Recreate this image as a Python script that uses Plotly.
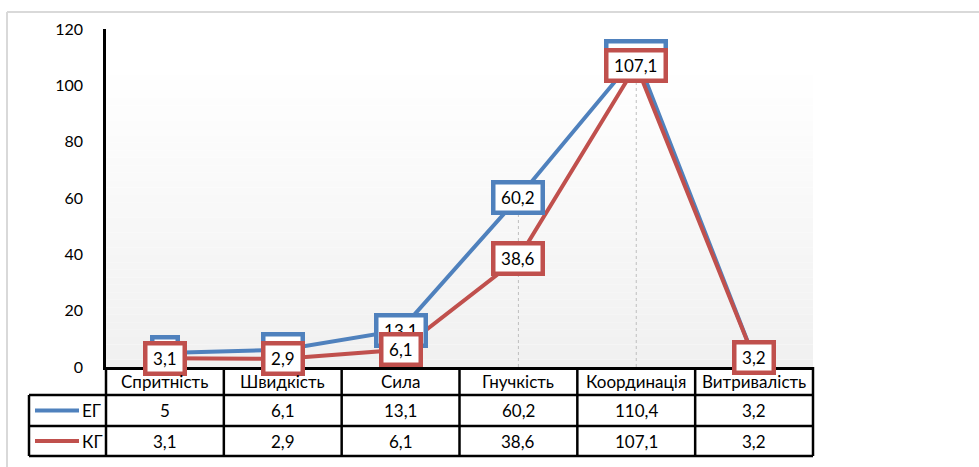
import plotly.graph_objects as go

categories = ["Спритність", "Швидкість", "Сила", "Гнучкість", "Координація", "Витривалість"]
eg_values = [5, 6.1, 13.1, 60.2, 110.4, 3.2]
kg_values = [3.1, 2.9, 6.1, 38.6, 107.1, 3.2]
series_names = ["ЕГ", "КГ"]
y_ticks = [0, 20, 40, 60, 80, 100, 120]

BLUE = "#4f81bd"
RED = "#c0504d"
FONT = "Lato, 'Open Sans', sans-serif"
LABEL_SIZE = 17
TABLE_SIZE = 17

W, H = 979, 467
ML, MR, MT, MB = 106, 166, 29, 100
PW = W - ML - MR
PH = H - MT - MB


def px(x):
    return (x - ML) / PW


def py(y):
    return (H - MB - y) / PH


def fmt(v):
    return (f"{v:g}").replace(".", ",")


def label_width(s):
    w = 0
    for ch in s:
        w += 0.24 * LABEL_SIZE if ch == "," else 0.58 * LABEL_SIZE
    return w + 7


fig = go.Figure()

# drop lines (from highest value down to the axis)
dx, dy = [], []
for c, a, b in zip(categories, eg_values, kg_values):
    dx += [c, c, None]
    dy += [0, max(a, b), None]
fig.add_trace(go.Scatter(x=dx, y=dy, mode="lines", showlegend=False, hoverinfo="skip",
                         line=dict(color="#bfbfbf", width=1, dash="dot")))

fig.add_trace(go.Scatter(x=categories, y=eg_values, mode="lines", name=series_names[0],
                         line=dict(color=BLUE, width=4), showlegend=False))
fig.add_trace(go.Scatter(x=categories, y=kg_values, mode="lines", name=series_names[1],
                         line=dict(color=RED, width=4), showlegend=False))

shapes = []
annotations = []

# gradient plot background
n_strips = 40
top_y, bot_y = 68, H - MB
for i in range(n_strips):
    y0 = top_y + (bot_y - top_y) * i / n_strips
    y1 = top_y + (bot_y - top_y) * (i + 1) / n_strips
    t = (i + 0.5) / n_strips
    g = round(255 - (255 - 240) * t)
    shapes.append(dict(type="rect", xref="paper", yref="paper", x0=0, x1=1,
                       y0=py(y1), y1=py(y0), fillcolor=f"rgb({g},{g},{g})",
                       line=dict(width=0), layer="below"))

# outer chart frame (top and left visible)
shapes.append(dict(type="line", xref="paper", yref="paper", x0=px(7), x1=px(W + 5),
                   y0=py(12), y1=py(12), line=dict(color="#d9d9d9", width=2)))
shapes.append(dict(type="line", xref="paper", yref="paper", x0=px(7), x1=px(7),
                   y0=py(12), y1=py(H + 5), line=dict(color="#d9d9d9", width=2)))

# data labels as boxes
for vals, color in [(eg_values, BLUE), (kg_values, RED)]:
    for c, v in zip(categories, vals):
        s = fmt(v)
        annotations.append(dict(x=c, y=v, xref="x", yref="y", text=s, showarrow=False,
                                font=dict(family=FONT, size=LABEL_SIZE, color="black"),
                                bgcolor="white", bordercolor=color, borderwidth=4.5,
                                borderpad=2, width=label_width(s), height=22,
                                xanchor="center", yanchor="middle"))

# data table
row_top, row1, row2, row3 = H - MB, 395, 426, 456
tab_left = 29
lw = 2.5
n = len(categories)
for k in range(n + 1):
    xk = k / n
    shapes.append(dict(type="line", xref="paper", yref="paper", x0=xk, x1=xk,
                       y0=py(row_top), y1=py(row3), line=dict(color="black", width=lw)))
shapes.append(dict(type="line", xref="paper", yref="paper", x0=px(tab_left), x1=px(tab_left),
                   y0=py(row1), y1=py(row3), line=dict(color="black", width=lw)))
for yy in (row1, row2, row3):
    shapes.append(dict(type="line", xref="paper", yref="paper", x0=px(tab_left), x1=1,
                       y0=py(yy), y1=py(yy), line=dict(color="black", width=lw)))

row_centers = [(row_top + row1) / 2, (row1 + row2) / 2, (row2 + row3) / 2]
for c in categories:
    annotations.append(dict(x=c, y=py(row_centers[0]), xref="x", yref="paper", text=c,
                            showarrow=False, font=dict(family=FONT, size=TABLE_SIZE, color="black"),
                            xanchor="center", yanchor="middle"))
for r, vals in ((1, eg_values), (2, kg_values)):
    for c, v in zip(categories, vals):
        annotations.append(dict(x=c, y=py(row_centers[r]), xref="x", yref="paper", text=fmt(v),
                                showarrow=False, font=dict(family=FONT, size=TABLE_SIZE, color="black"),
                                xanchor="center", yanchor="middle"))

# legend keys inside the table
for r, name, color in ((1, series_names[0], BLUE), (2, series_names[1], RED)):
    yc = row_centers[r]
    shapes.append(dict(type="line", xref="paper", yref="paper", x0=px(35), x1=px(79),
                       y0=py(yc), y1=py(yc), line=dict(color=color, width=4)))
    annotations.append(dict(x=px(80), y=py(yc), xref="paper", yref="paper", text=name,
                            showarrow=False, font=dict(family=FONT, size=TABLE_SIZE, color="black"),
                            xanchor="left", yanchor="middle"))

fig.update_layout(
    width=W, height=H,
    margin=dict(l=ML, r=MR, t=MT, b=MB),
    paper_bgcolor="white",
    plot_bgcolor="rgba(0,0,0,0)",
    shapes=shapes,
    annotations=annotations,
    showlegend=False,
    xaxis=dict(type="category", categoryorder="array", categoryarray=categories,
               range=[-0.5, n - 0.5], showticklabels=False, showgrid=False, zeroline=False,
               showline=True, linecolor="black", linewidth=2.5, ticks=""),
    yaxis=dict(range=[0, 120], tickvals=y_ticks, showgrid=False, zeroline=False,
               showline=True, linecolor="black", linewidth=2.5, ticks="",
               ticklabelstandoff=17,
               tickfont=dict(family=FONT, size=16, color="black")),
)

fig.write_html("out.html", config={"displayModeBar": False},
               post_script="document.body.style.margin='0';document.body.style.overflow='hidden';")
